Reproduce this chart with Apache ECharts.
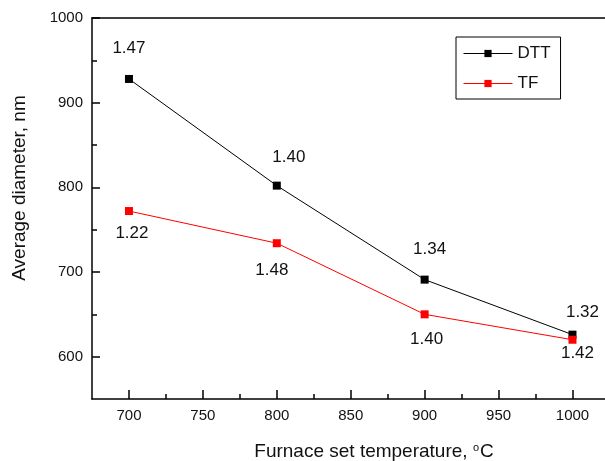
<!DOCTYPE html>
<html>
<head>
<meta charset="utf-8">
<script src="https://cdn.jsdelivr.net/npm/echarts@6/dist/echarts.min.js"></script>
<style>
html,body{margin:0;padding:0;background:#fff;}
#chart{width:605px;height:461px;}
</style>
</head>
<body>
<div id="chart"></div>
<script>
// ---- data ----
var temperatures = [700, 800, 900, 1000];
var dttDiameter = [928, 802, 691, 626];
var tfDiameter = [772, 734, 650, 620];
var dttRatio = ['1.47', '1.40', '1.34', '1.32'];
var tfRatio = ['1.22', '1.48', '1.40', '1.42'];
var xTickLabels = [700, 750, 800, 850, 900, 950, 1000];
var xMinorTicks = [725, 775, 825, 875, 925, 975];
var yTickLabels = [600, 700, 800, 900, 1000];
var yMinorTicks = [650, 750, 850, 950];

// label offsets (style only)
var dttLabelOffset = [[0, -31], [12, -28], [5, -30], [10, -22]];
var tfLabelOffset = [[3, 22], [-5, 27], [2, 25], [5, 14]];

var FONT = '"Liberation Sans", Arial, sans-serif';
var chart = echarts.init(document.getElementById('chart'), null, {renderer: 'canvas'});

function buildData(xs, ys, offs) {
  return xs.map(function (x, i) {
    return {value: [x, ys[i]], label: {offset: offs[i]}};
  });
}
function plain(v) { return String(v); }

var axisLineStyle = {color: '#000', width: 1.5};
var XMIN = 675, XMAX = 1022;

chart.setOption({
  animation: false,
  backgroundColor: '#fff',
  grid: {left: 92, top: 18, right: 0, height: 381, containLabel: false},
  legend: {
    data: ['DTT', 'TF'],
    orient: 'vertical',
    left: 456, top: 37,
    borderColor: '#000', borderWidth: 1,
    padding: [8, 10, 7, 7],
    itemWidth: 49, itemHeight: 9, itemGap: 13,
    lineStyle: {width: 1},
    textStyle: {fontFamily: FONT, fontSize: 17, color: '#111', lineHeight: 14}
  },
  xAxis: [
    {
      type: 'value', min: XMIN, max: XMAX, position: 'bottom',
      axisLine: {show: true, onZero: false, lineStyle: axisLineStyle},
      axisTick: {show: true, inside: true, length: 9, customValues: xTickLabels, lineStyle: axisLineStyle},
      axisLabel: {show: true, customValues: xTickLabels, formatter: plain, margin: 9, fontFamily: FONT, fontSize: 15, color: '#111'},
      splitLine: {show: false}
    },
    {
      type: 'value', min: XMIN, max: XMAX, position: 'bottom',
      axisLine: {show: false},
      axisTick: {show: true, inside: true, length: 5, customValues: xMinorTicks, lineStyle: axisLineStyle},
      axisLabel: {show: false},
      splitLine: {show: false}
    },
    {
      type: 'value', min: XMIN, max: XMAX, position: 'top',
      axisLine: {show: true, onZero: false, lineStyle: axisLineStyle},
      axisTick: {show: false}, axisLabel: {show: false}, splitLine: {show: false}
    }
  ],
  yAxis: [
    {
      type: 'value', min: 550, max: 1000, position: 'left',
      axisLine: {show: true, onZero: false, lineStyle: axisLineStyle},
      axisTick: {show: true, inside: true, length: 8, customValues: yTickLabels, lineStyle: axisLineStyle},
      axisLabel: {show: true, customValues: yTickLabels, formatter: plain, margin: 9, fontFamily: FONT, fontSize: 15, color: '#111'},
      splitLine: {show: false}
    },
    {
      type: 'value', min: 550, max: 1000, position: 'left',
      axisLine: {show: false},
      axisTick: {show: true, inside: true, length: 5, customValues: yMinorTicks, lineStyle: axisLineStyle},
      axisLabel: {show: false},
      splitLine: {show: false}
    }
  ],
  graphic: [
    {
      type: 'text', x: 20, y: 188, rotation: Math.PI / 2,
      style: {text: 'Average diameter, nm', font: '19px ' + FONT, fill: '#111',
              align: 'center', verticalAlign: 'middle'}
    },
    {
      type: 'text', x: 374, y: 452,
      style: {
        text: 'Furnace set temperature, {sup|o}C',
        font: '19px ' + FONT, fill: '#111', align: 'center', verticalAlign: 'middle',
        rich: {sup: {fontSize: 11, fontFamily: FONT, fill: '#111', padding: [0, 1, 8, 0]}}
      }
    }
  ],
  series: [
    {
      name: 'DTT', type: 'line', xAxisIndex: 0, yAxisIndex: 0,
      data: buildData(temperatures, dttDiameter, dttLabelOffset),
      symbol: 'rect', symbolSize: 8,
      lineStyle: {color: '#000', width: 1},
      itemStyle: {color: '#000'},
      label: {show: true, position: 'inside', fontFamily: FONT, fontSize: 17, color: '#111',
              formatter: function (p) { return dttRatio[p.dataIndex]; }},
      z: 3
    },
    {
      name: 'TF', type: 'line', xAxisIndex: 0, yAxisIndex: 0,
      data: buildData(temperatures, tfDiameter, tfLabelOffset),
      symbol: 'rect', symbolSize: 8,
      lineStyle: {color: '#ff0000', width: 1},
      itemStyle: {color: '#ff0000'},
      label: {show: true, position: 'inside', fontFamily: FONT, fontSize: 17, color: '#111',
              formatter: function (p) { return tfRatio[p.dataIndex]; }},
      z: 4
    }
  ]
});
</script>
</body>
</html>
